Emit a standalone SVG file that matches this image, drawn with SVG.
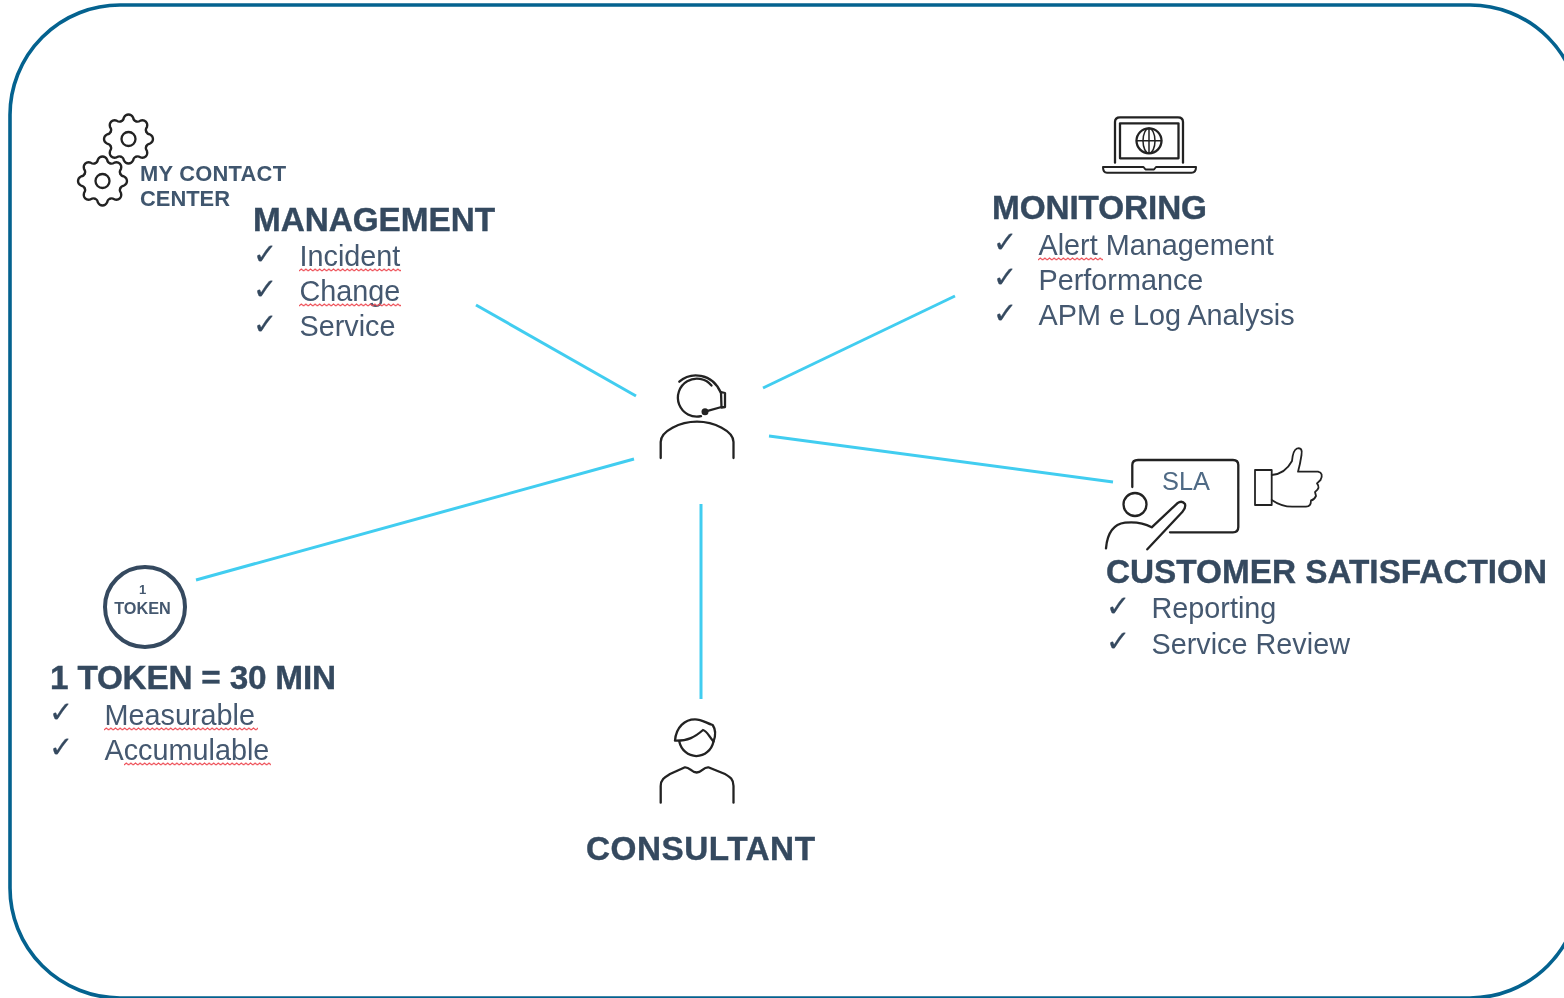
<svg xmlns="http://www.w3.org/2000/svg" xmlns:xlink="http://www.w3.org/1999/xlink" width="1564" height="998" viewBox="0 0 1564 998">
<style>
text{font-family:"Liberation Sans",Arial,sans-serif}
.h{font-size:33.3px;font-weight:700;fill:#34495f;stroke:#34495f;stroke-width:.4}
.s{font-size:21.9px;font-weight:700;fill:#3f566e}
.t{font-size:28.8px;fill:#44586f}
.c{font-family:"DejaVu Sans",sans-serif;font-size:29px;fill:#34495f;stroke:#34495f;stroke-width:.3}
.i{fill:none;stroke:#222;stroke-width:2.3;stroke-linecap:round;stroke-linejoin:round}
.l{stroke:#41cdf0;stroke-width:3;fill:none}
.w{fill:url(#squiggle)}
.n{filter:url(#soft)}
</style>
<defs>
<filter id="soft" x="-5%" y="-5%" width="110%" height="110%"><feGaussianBlur stdDeviation="0.45"/></filter>
<pattern id="squiggle" width="4.6" height="4" patternUnits="userSpaceOnUse"><path d="M0,3 L2.3,1 L4.6,3" fill="none" stroke="#ee4d55" stroke-width="1"/></pattern>
<path id="tooth" d="M-7.35,-17.75Q-5,-18.5-4.6,-21.5Q-3,-24.5 0,-24.5Q3,-24.5 4.6,-21.5Q5,-18.5 7.35,-17.75"/>
<g id="gear" class="i">
<use xlink:href="#tooth"/><use xlink:href="#tooth" transform="rotate(45)"/><use xlink:href="#tooth" transform="rotate(90)"/><use xlink:href="#tooth" transform="rotate(135)"/><use xlink:href="#tooth" transform="rotate(180)"/><use xlink:href="#tooth" transform="rotate(225)"/><use xlink:href="#tooth" transform="rotate(270)"/><use xlink:href="#tooth" transform="rotate(315)"/>
<circle r="7"/>
</g>
</defs>
<rect width="1564" height="998" fill="#fff"/>
<path id="frame" d="M1580,115A110,110 0 0 0 1470,5H120A110,110 0 0 0 10,115V888A110,110 0 0 0 120,998H1470A110,110 0 0 0 1580,888Z" fill="none" stroke="#04628f" stroke-width="3.6"/>
<g id="connectors" class="l">
<path d="M476,305L636,396"/>
<path d="M955,296L763,388"/>
<path d="M769,436L1113,482"/>
<path d="M634,459L196,580"/>
<path d="M701,504V699"/>
</g>
<g id="management" class="n">
<use xlink:href="#gear" transform="translate(128.500,139)"/>
<use xlink:href="#gear" transform="translate(102.500,181)"/>
<text class="s" x="140" y="181" textLength="146">MY CONTACT</text>
<text class="s" x="140" y="206">CENTER</text>
<text class="h" x="253" y="231" textLength="242">MANAGEMENT</text>
<text class="c" x="253" y="264">✓</text><text class="t" x="299.500" y="266">Incident</text>
<text class="c" x="253" y="299">✓</text><text class="t" x="299.500" y="301">Change</text>
<text class="c" x="253" y="334">✓</text><text class="t" x="299.500" y="336">Service</text>
<rect class="w" width="102" height="4" transform="translate(299,268)"/>
<rect class="w" width="102" height="4" transform="translate(299,303)"/>
</g>
<g id="monitoring" class="n">
<path class="i" d="M1115,162.700V122Q1115,117.300 1120,117.300H1178Q1183,117.300 1183,122V162.700"/>
<rect class="i" x="1120" y="123.300" width="58.500" height="35"/>
<circle class="i" cx="1149" cy="140.800" r="12.500"/>
<path class="i" style="stroke-width:1.500" d="M1149,128.300V153.300M1136.500,140.800H1161.500"/>
<ellipse class="i" style="stroke-width:1.500" cx="1149" cy="140.800" rx="6" ry="12.500"/>
<path class="i" style="stroke-width:2" d="M1103,167H1143.500L1145.500,169.500H1154L1156,167H1196Q1196,172.800 1191.500,172.800H1107Q1103,172.800 1103,167Z"/>
<text class="h" x="992" y="219" textLength="215">MONITORING</text>
<text class="c" x="993" y="252">✓</text><text class="t" x="1038.500" y="255">Alert Management</text>
<text class="c" x="993" y="287">✓</text><text class="t" x="1038.500" y="290">Performance</text>
<text class="c" x="993" y="323">✓</text><text class="t" x="1038.500" y="325">APM e Log Analysis</text>
<rect class="w" width="65" height="4" transform="translate(1038,257)"/>
</g>
<g id="operator" class="n">
<path class="i" d="M711.500,385.500A19,19 0 1 0 701,416.200"/>
<path class="i" d="M679.300,381.700C690,372 712,372 721,393"/>
<path class="i" d="M721,392L725,393V407L721.500,407.500Z"/>
<path class="i" d="M705,411.700L721.500,407"/>
<circle cx="705" cy="411.700" r="3.500" fill="#222"/>
<path class="i" d="M660.700,458V442C660.700,431 680,421.700 697,421.700C714,421.700 733.500,431 733.500,442V458"/>
</g>
<g id="satisfaction" class="n">
<path class="i" d="M1132.300,487V465Q1132.300,460 1138,460H1233Q1238.300,460 1238.300,465V527Q1238.300,532.300 1233,532.300H1170"/>
<circle class="i" cx="1135" cy="504.500" r="11.500"/>
<path class="i" d="M1106,548.300Q1108,525 1125,522.700Q1140,521 1151.700,527.300L1177.300,503.300Q1182,500 1185,504Q1186,508 1182.500,511.700L1147.300,549.300"/>
<text x="1162" y="490" font-size="25.400" fill="#4f6a85">SLA</text>
<rect class="i" style="stroke-width:1.800" x="1255" y="470" width="16.700" height="35"/>
<path class="i" style="stroke-width:1.800" d="M1271.700,475Q1285,474 1292,461Q1293,450 1297,448.500Q1303,447 1301.500,455Q1300,465 1298,471.700H1318Q1324,473 1320.500,480L1317,483.300Q1321,488 1315,492L1316,496Q1314,500 1311,500.500Q1311,506.500 1306,506.700H1293Q1282,507 1271.700,500"/>
<text class="h" x="1106" y="583" textLength="441">CUSTOMER SATISFACTION</text>
<text class="c" x="1106" y="616">✓</text><text class="t" x="1151.500" y="618">Reporting</text>
<text class="c" x="1106" y="651">✓</text><text class="t" x="1151.500" y="654">Service Review</text>
</g>
<g id="token" class="n">
<circle cx="145" cy="607" r="40" fill="none" stroke="#34495f" stroke-width="4"/>
<text x="142.500" y="594" font-size="13px" font-weight="700" fill="#44586f" text-anchor="middle">1</text>
<text x="142.500" y="614" font-size="16.300" font-weight="700" fill="#44586f" text-anchor="middle">TOKEN</text>
<text class="h" x="50" y="689" textLength="286">1 TOKEN = 30 MIN</text>
<text class="c" x="49" y="722">✓</text><text class="t" x="104.500" y="725">Measurable</text>
<text class="c" x="49" y="757">✓</text><text class="t" x="104.500" y="760">Accumulable</text>
<rect class="w" width="154" height="4" transform="translate(104,727)"/>
<rect class="w" width="147" height="4" transform="translate(124,762)"/>
</g>
<g id="consultant" class="n">
<path class="i" d="M675,740.700C676,727 685,719.300 695,719.300C702,719.300 706,723 712.700,725C716,730 716,735 713.500,741.500C708,735 707,731 703,730C695,737 688,741 675,740.700Z"/>
<path class="i" d="M679.300,741.500A17.500,18.500 0 0 0 713.500,741.500"/>
<path class="i" d="M660.700,802.700V786C660.700,779 665,777 670,774L685,767.300C690,767 691,772.500 696.700,772.500C702,772.500 703,767 708.300,767.300L725,774C730,777 733.500,779 733.500,786V802.700"/>
<text class="h" x="586" y="860" textLength="229">CONSULTANT</text>
</g>
</svg>
